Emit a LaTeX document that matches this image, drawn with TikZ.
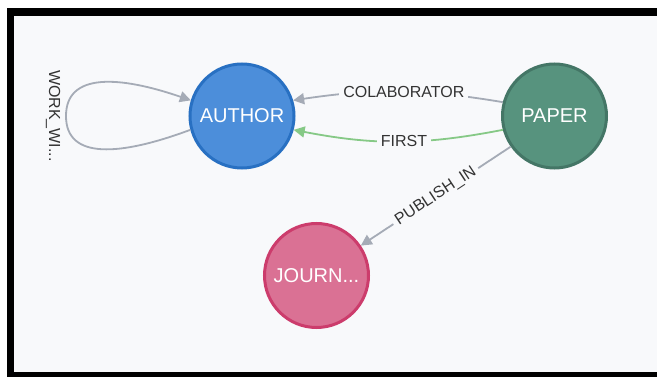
\documentclass[tikz,border=0pt]{standalone}
\usepackage{fontspec}
\setmainfont{Liberation Sans}
\usetikzlibrary{arrows.meta}
\definecolor{canvas}{HTML}{F8F9FB}
\definecolor{edgegray}{HTML}{A5ABB6}
\definecolor{edgegreen}{HTML}{86C986}
\definecolor{labeltext}{HTML}{333333}
\definecolor{authorfill}{HTML}{4C8EDA}
\definecolor{authorline}{HTML}{2870C2}
\definecolor{paperfill}{HTML}{57937E}
\definecolor{paperline}{HTML}{447666}
\definecolor{journfill}{HTML}{DA7194}
\definecolor{journline}{HTML}{CC3C6C}
\tikzset{
  graphnode/.style={circle, minimum size=104pt, inner sep=0pt, line width=3pt,
    text=white, font=\fontsize{20}{22}\selectfont},
  rel/.style={line width=1.8pt, draw=edgegray,
    -{Triangle[length=11pt,width=11pt]}},
  relgreen/.style={rel, draw=edgegreen},
  rellabel/.style={fill=canvas, inner xsep=4pt, inner ysep=1pt,
    text=labeltext, font=\fontsize{16}{18}\selectfont},
}
\begin{document}
\begin{tikzpicture}[x=1pt, y=-1pt]
  % page, frame and canvas
  \fill[white] (0,0) rectangle (657,377);
  \useasboundingbox (0,0) rectangle (657,377);
  \fill[black] (7,8) rectangle (657,377);
  \fill[canvas] (14,16) rectangle (657,372);

  % nodes
  \node[graphnode, fill=authorfill, draw=authorline] (author) at (242,116) {AUTHOR};
  \node[graphnode, fill=paperfill, draw=paperline] (paper) at (554.5,116) {PAPER};
  \node[graphnode, fill=journfill, draw=journline] (journ) at (316.5,275.5) {JOURN...};

  % relationships
  \draw[rel] (paper.165) to[bend right=9] node[rellabel, pos=0.47] {COLABORATOR} (author.17);
  \draw[relgreen] (paper.195) to[bend left=11] node[rellabel, pos=0.47] {FIRST} (author.345);
  \draw[rel] (paper.215) -- node[rellabel, sloped] {PUBLISH\_IN} (journ.34);

  % self loop on AUTHOR
  \coordinate (loopend) at (66,116);
  \draw[rel] (author.195) .. controls (120,156) and (66,160) .. (loopend)
    .. controls (66,72) and (120,76) .. (author.163);
  \node[rellabel, fill=none, rotate=-90] (looplabel) at (53,116) {WORK\_WI...};
\end{tikzpicture}
\end{document}
